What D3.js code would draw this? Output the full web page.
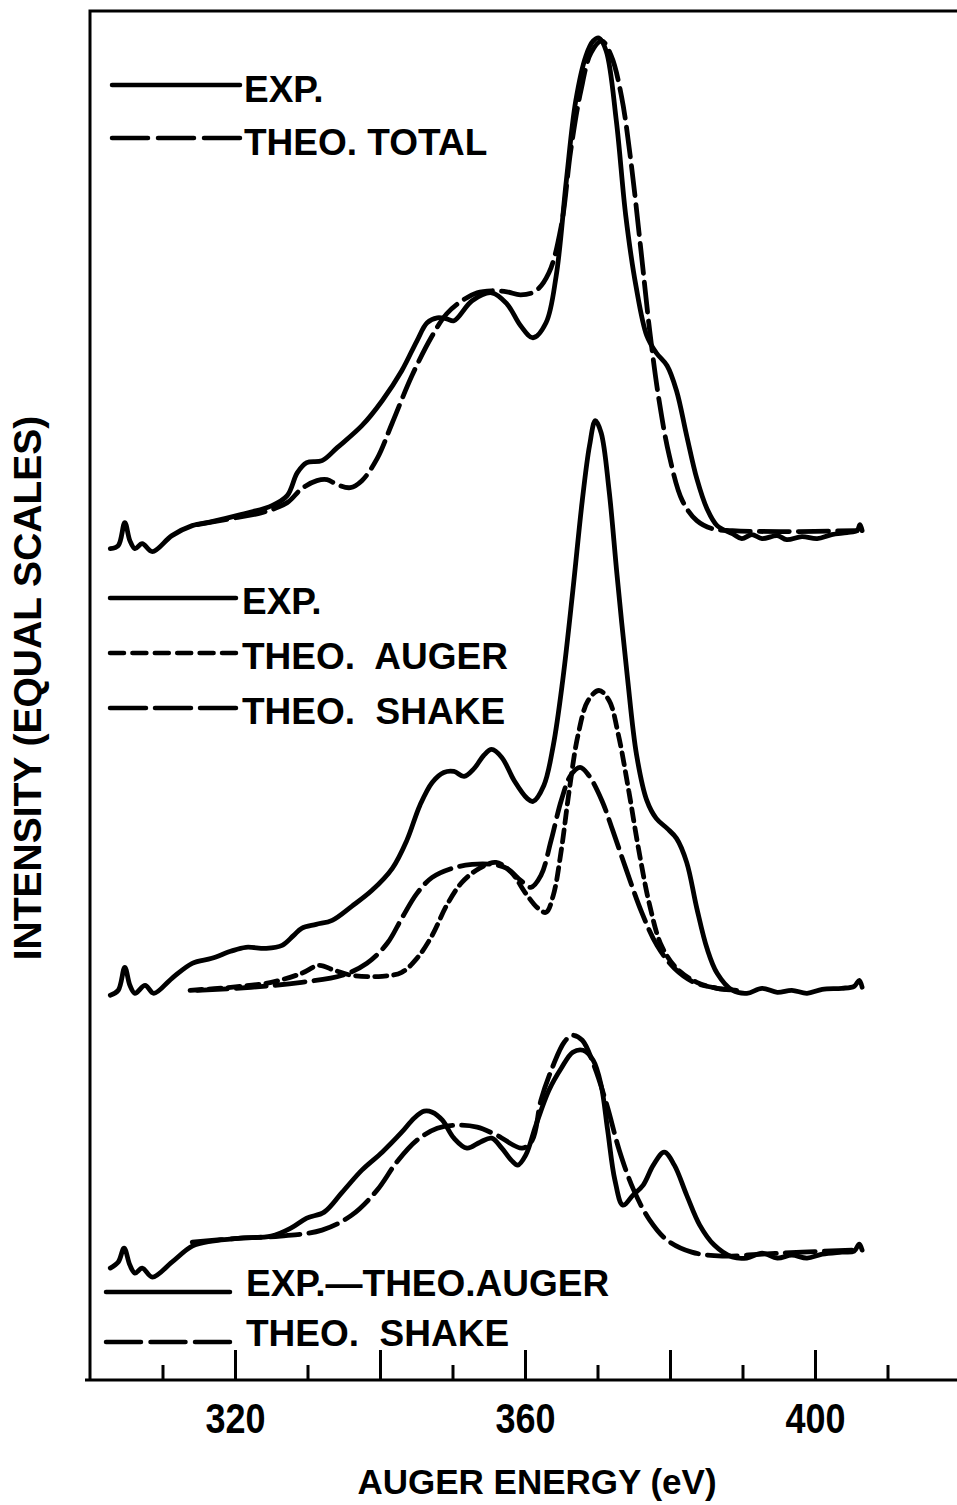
<!DOCTYPE html>
<html>
<head>
<meta charset="utf-8">
<script src="https://cdnjs.cloudflare.com/ajax/libs/d3/7.8.5/d3.min.js"></script>
<style>
html, body { margin: 0; padding: 0; background: #fff; }
svg { display: block; }
text { font-family: "Liberation Sans", Arial, Helvetica, sans-serif; font-weight: bold; fill: #000; white-space: pre; }
</style>
</head>
<body>
<svg id="chart"></svg>
<script>
(function() {
'use strict';

// energy axis (eV)
var minorTicks = [310, 330, 350, 370, 390, 410];
var majorTicks = [320, 340, 360, 380, 400];
var tickLabels = [320, 360, 400];

// baseline of each stacked spectrum, in intensity units (top, middle, bottom)
var panelBase = [84, 39, 12.5];

// top panel
var expTop = [
    [302.8,-0.8],[303.9,-0.5],[304.8,1.8],[305.5,0],[306.2,-0.8],[307.2,-0.3],[308.6,-1.1],[311.3,0.5],
    [314.1,1.5],[316.8,1.9],[320.8,2.6],[325.1,3.5],[327.2,4.5],[328.6,6.8],[329.9,7.8],[332.0,8.0],
    [334.1,9.3],[337.5,11.5],[340.3,14],[343.0,17],[345.1,20],[346.5,21.8],[347.9,22.3],[349.2,22.2],
    [350.2,22],[352.7,24],[355.4,24.8],[357.5,23.7],[359.4,21.5],[361.1,20.3],[362.9,21.8],[364.3,26.5],
    [365.7,36],[367.0,44],[368.4,48.5],[369.4,50],[370.2,50.3],[371.2,49],[372.6,42],[373.9,32.5],
    [375.3,25.5],[376.8,20.5],[378.1,18.8],[379.6,17.5],[380.9,15],[382.3,10.5],[383.7,6.2],[385.1,3.2],
    [386.5,1.5],[388.6,0.7],[389.9,0.2],[391.3,0.6],[392.7,0.2],[394.8,0.5],[396.1,0.1],[398.2,0.4],
    [400.3,0.2],[402.3,0.6],[404.4,0.8],[405.8,1.0],[406.2,1.6],[406.5,1.0]
];
var theoTotal = [
    [314.8,1.6],[319.4,2.2],[323.7,2.8],[327.2,3.8],[329.2,5.2],[331.3,6.0],[332.7,6.1],[334.1,5.6],
    [335.9,5.3],[337.5,6.0],[339.6,8.2],[341.7,11.8],[344.4,16.5],[347.2,20.5],[349.2,22.7],[351.3,24],
    [353.4,24.8],[355.4,25],[357.5,24.9],[359.4,24.6],[361.5,25],[363.3,26.8],[365.0,31.5],[366.3,39],
    [367.7,45],[369.1,48.8],[370.6,50],[371.9,48.5],[373.3,44.5],[374.6,38],[376.0,29],[377.2,21],
    [378.5,14],[379.9,8.5],[381.7,4.0],[383.7,2.0],[385.8,1.2],[388.6,1.0],[395.4,0.9],[405.8,1.0]
];

// middle panel
var expMid = [
    [302.8,-0.5],[303.9,0],[304.8,2.3],[305.5,0.5],[306.2,-0.3],[307.6,0.5],[308.8,-0.3],[311.3,1.2],
    [314.1,2.7],[316.8,3.2],[319.4,3.9],[321.5,4.3],[324.3,4.2],[326.5,4.5],[328.1,5.5],[329.2,6.2],
    [331.2,6.6],[333.4,7.0],[336.1,8.4],[338.9,10],[341.7,12.2],[343.7,15],[345.5,18.5],[347.2,20.8],
    [348.8,21.8],[350.2,21.9],[351.6,21.4],[353.0,22.2],[354.3,23.5],[355.4,24.1],[356.8,23.3],[358.5,21],
    [360.3,19.2],[361.1,18.9],[362.6,20.5],[363.9,24.5],[365.2,31],[366.6,40],[367.9,49],[368.9,54.5],
    [369.7,57],[370.5,55.8],[371.6,50],[372.7,41.5],[374.1,31.5],[375.4,23.5],[376.8,19],[378.1,17.2],
    [379.6,16.2],[380.9,15.2],[382.3,12.8],[383.7,8.2],[385.1,4.2],[386.5,1.7],[388.6,0],[390.6,-0.3],
    [392.7,0.2],[394.8,-0.2],[396.8,0],[398.9,-0.3],[401.0,0.1],[403.7,0.2],[405.4,0.4],[406.1,1.0],[406.5,0.3]
];
var theoAuger = [
    [313.8,0],[319.4,0.3],[325.0,0.8],[329.2,1.7],[331.6,2.5],[333.7,2.0],[336.1,1.5],[340.3,1.4],
    [343.0,1.8],[345.1,3.2],[347.2,5.5],[349.2,8.5],[351.3,10.8],[353.7,12.2],[356.0,12.8],[358.1,11.8],
    [360.1,9.7],[361.8,8.2],[362.9,7.8],[363.9,9.5],[365.0,14],[366.1,20],[367.3,25.5],[368.7,29],
    [370.2,30],[371.6,29],[372.9,25.5],[374.3,20],[375.7,14],[377.2,8.5],[378.8,4.5],[380.9,2.2],
    [383.7,0.8],[386.5,0.2],[389.2,0]
];
var shakeMid = [
    [314.8,0],[322.2,0.3],[329.2,0.8],[334.8,1.5],[338.2,2.7],[341.0,4.7],[343.0,7.2],[345.1,9.7],
    [347.2,11.3],[349.9,12.2],[352.7,12.6],[355.4,12.6],[357.5,12.2],[359.4,11],[360.8,10.3],[362.2,11.5],
    [363.6,15],[365.0,19],[366.3,21.5],[367.6,22.3],[368.8,21.5],[370.6,19],[372.1,16],[374.0,12],
    [376.1,7.8],[378.2,4.5],[380.6,2.2],[383.3,0.8],[386.5,0.2],[389.2,0]
];

// bottom panel
var expDiff = [
    [302.8,-1.3],[303.9,-0.7],[304.7,0.7],[305.5,-1.0],[306.2,-1.8],[307.2,-1.3],[308.6,-2.2],[311.3,-0.7],
    [314.1,0.9],[316.8,1.4],[320.8,1.7],[325.0,1.9],[327.7,2.7],[329.9,3.7],[332.3,4.3],[334.8,6.3],
    [337.5,8.5],[340.3,10.3],[343.0,12.3],[344.7,13.7],[346.1,14.4],[347.2,14.3],[348.6,13.5],[350.2,11.7],
    [352.0,10.7],[353.8,11.3],[355.4,11.7],[356.8,10.7],[358.1,9.5],[359.0,9.0],[360.1,10],[361.5,13],
    [363.3,16.5],[365.0,18.7],[366.6,20.3],[368.0,20.5],[369.4,19.5],[370.5,17],[371.4,12.5],[372.4,7.5],
    [373.5,5.0],[374.9,6.0],[376.3,7.0],[377.7,9.0],[379.2,10.3],[380.6,9.0],[382.3,6.0],[384.1,3.0],
    [386.1,1.0],[388.6,-0.2],[390.6,-0.3],[392.7,0.2],[394.8,-0.3],[396.8,0],[398.9,-0.3],[401.0,0.1],
    [403.7,0.3],[405.4,0.4],[406.1,1.1],[406.5,0.5]
];
var shakeBot = [
    [314.1,1.3],[320.8,1.7],[326.3,1.9],[332.0,2.5],[336.1,4.0],[339.6,6.5],[342.3,9.3],[345.1,11.5],
    [347.9,12.7],[350.6,13.0],[353.4,12.8],[356.1,12],[359.6,10.7],[361.0,11.5],[362.2,15.5],[363.9,19],
    [365.4,21.3],[366.5,22],[367.9,21.5],[369.5,19],[371.3,15],[373.0,10.5],[375.0,6.5],[377.2,3.5],
    [379.6,1.5],[383.0,0.3],[387.2,-0.1],[392.7,0.1],[398.2,0.3],[405.1,0.5]
];

var legendTopLabels = ['EXP.', 'THEO. TOTAL'];
var legendMidLabels = ['EXP.', 'THEO.  AUGER', 'THEO.  SHAKE'];
var legendBotLabels = ['EXP.\u2014THEO.AUGER', 'THEO.  SHAKE'];

var width = 957, height = 1505;
var LONG = '30,9', SHORT = '12,7';

var svg = d3.select('#chart').attr('width', width).attr('height', height);

var x = d3.scaleLinear().domain([300, 420]).range([90, 960]);
var y = d3.scaleLinear().domain([0, 137]).range([1380, 11]);

// frame: left axis and top line
svg.append('path')
    .attr('d', 'M' + x(420) + ',' + y(137) + 'H' + x(300) + 'V' + y(0))
    .attr('fill', 'none')
    .attr('stroke', '#000')
    .attr('stroke-width', 3);

var minorAxis = d3.axisBottom(x).tickValues(minorTicks).tickSize(-15).tickFormat('');
var majorAxis = d3.axisBottom(x).tickValues(majorTicks).tickSizeInner(-30).tickSizeOuter(0)
    .tickPadding(23)
    .tickFormat(function(d) {
        return tickLabels.indexOf(d) >= 0 ? d : '';
    });

svg.append('g')
    .attr('transform', 'translate(0,' + y(0) + ')')
    .call(minorAxis)
    .call(function(g) { g.select('.domain').remove(); })
    .selectAll('line').attr('stroke-width', 3);

var gx = svg.append('g')
    .attr('transform', 'translate(0,' + y(0) + ')')
    .call(majorAxis);
gx.select('.domain').attr('stroke-width', 3).attr('d', 'M' + (x(300) - 5) + ',0H' + width);
gx.selectAll('line').attr('stroke-width', 3);
gx.selectAll('text')
    .attr('font-size', 42)
    .attr('font-family', '"Liberation Sans", Arial, sans-serif')
    .attr('font-weight', 'bold')
    .attr('fill', '#000')
    .attr('textLength', 60)
    .attr('lengthAdjust', 'spacingAndGlyphs');

svg.append('text')
    .attr('x', 537)
    .attr('y', 1481)
    .attr('text-anchor', 'middle')
    .attr('dominant-baseline', 'central')
    .attr('font-size', 35)
    .text('AUGER ENERGY (eV)');

svg.append('text')
    .attr('transform', 'translate(27,688) rotate(-90)')
    .attr('text-anchor', 'middle')
    .attr('dominant-baseline', 'central')
    .attr('font-size', 39)
    .text('INTENSITY (EQUAL SCALES)');

// spectra
var curves = [
    { data: expTop, base: panelBase[0], dash: null },
    { data: theoTotal, base: panelBase[0], dash: LONG },
    { data: expMid, base: panelBase[1], dash: null },
    { data: theoAuger, base: panelBase[1], dash: SHORT },
    { data: shakeMid, base: panelBase[1], dash: LONG },
    { data: expDiff, base: panelBase[2], dash: null },
    { data: shakeBot, base: panelBase[2], dash: LONG }
];

curves.forEach(function(c) {
    var line = d3.line()
        .x(function(d) { return x(d[0]); })
        .y(function(d) { return y(c.base + d[1]); })
        .curve(d3.curveCatmullRom.alpha(0.5));
    svg.append('path')
        .datum(c.data)
        .attr('d', line)
        .attr('fill', 'none')
        .attr('stroke', '#000')
        .attr('stroke-width', 4.8)
        .attr('stroke-linecap', 'round')
        .attr('stroke-linejoin', 'round')
        .attr('stroke-dasharray', c.dash);
});

// legends
function legend(labels, dashes, rows, lineOff, x0, x1, tx) {
    labels.forEach(function(label, i) {
        svg.append('line')
            .attr('x1', x0).attr('x2', x1)
            .attr('y1', rows[i] + lineOff).attr('y2', rows[i] + lineOff)
            .attr('stroke', '#000')
            .attr('stroke-width', 4.5)
            .attr('stroke-linecap', 'round')
            .attr('stroke-dasharray', dashes[i]);
        svg.append('text')
            .attr('x', tx)
            .attr('y', rows[i])
            .attr('dominant-baseline', 'central')
            .attr('font-size', 37)
            .text(label);
    });
}

legend(legendTopLabels, [null, '36,10'], [89, 142], -4, 112, 240, 244);
legend(legendMidLabels, [null, '14,8.4', '36,9'], [601, 656, 711], -3, 110, 236, 242);
legend(legendBotLabels, [null, '35,9.5'], [1283, 1333], 9, 106, 230, 246);

})();
</script>
</body>
</html>
